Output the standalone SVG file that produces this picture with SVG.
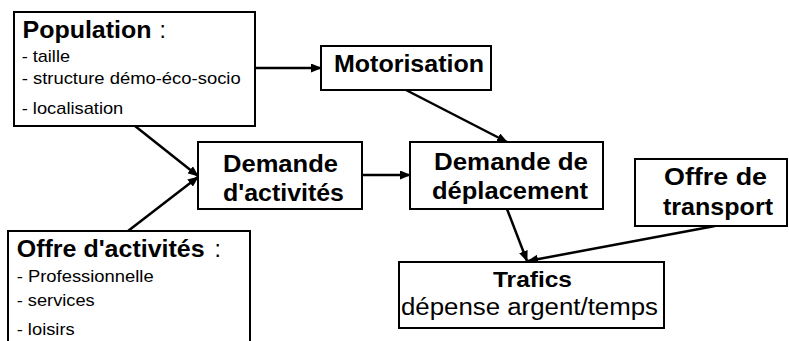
<svg xmlns="http://www.w3.org/2000/svg" width="789" height="341" viewBox="0 0 789 341">
<style>
  .box { fill: #ffffff; stroke: #000000; stroke-width: 2; }
  .t { font-family: "Liberation Sans", Arial, Helvetica, sans-serif; fill: #000000; }
  .b { font-weight: bold; }
  .title { font-size: 23px; }
  .big { font-size: 24px; }
  .item { font-size: 17px; }
  .mid { text-anchor: middle; }
  .conn line { stroke: #000000; stroke-width: 2.5; marker-end: url(#ah); }
</style>
<defs>
  <marker id="ah" markerUnits="userSpaceOnUse" markerWidth="11" markerHeight="9" refX="10" refY="4.5" orient="auto">
    <path d="M0,0 L11,4.5 L0,9 z" fill="#000000"/>
  </marker>
</defs>
<rect x="0" y="0" width="789" height="341" fill="#ffffff"/>

<g id="connectors" class="conn">
  <line x1="255" y1="68" x2="321" y2="68"/>
  <line x1="135" y1="126" x2="198" y2="176"/>
  <line x1="128" y1="231" x2="198" y2="177"/>
  <line x1="362" y1="175" x2="410" y2="175"/>
  <line x1="406" y1="90" x2="507" y2="142"/>
  <line x1="507" y1="209" x2="527" y2="261"/>
  <line x1="715" y1="226" x2="528" y2="261"/>
</g>

<g id="population">
  <rect class="box" x="14" y="12" width="241" height="114"/>
  <text class="t b title" x="22.5" y="38" textLength="129" lengthAdjust="spacingAndGlyphs">Population</text>
  <text class="t title" x="159.5" y="38">:</text>
  <text class="t item" x="21.7" y="61.5" textLength="48.3" lengthAdjust="spacingAndGlyphs">- taille</text>
  <text class="t item" x="21.7" y="84" textLength="219" lengthAdjust="spacingAndGlyphs">- structure démo-éco-socio</text>
  <text class="t item" x="21.7" y="114" textLength="101.6" lengthAdjust="spacingAndGlyphs">- localisation</text>
</g>

<g id="motorisation">
  <rect class="box" x="321" y="46" width="170" height="44"/>
  <text class="t b big" x="334" y="72" textLength="150" lengthAdjust="spacingAndGlyphs">Motorisation</text>
</g>

<g id="demande-activites">
  <rect class="box" x="198" y="142" width="164" height="67"/>
  <text class="t b big mid" x="280.5" y="172" textLength="115" lengthAdjust="spacingAndGlyphs">Demande</text>
  <text class="t b big mid" x="283.5" y="201" textLength="121" lengthAdjust="spacingAndGlyphs">d'activités</text>
</g>

<g id="demande-deplacement">
  <rect class="box" x="410" y="142" width="193" height="67"/>
  <text class="t b big mid" x="511" y="170" textLength="154" lengthAdjust="spacingAndGlyphs">Demande de</text>
  <text class="t b big mid" x="510" y="199" textLength="156" lengthAdjust="spacingAndGlyphs">déplacement</text>
</g>

<g id="offre-transport">
  <rect class="box" x="635" y="159" width="152" height="67"/>
  <text class="t b big mid" x="715.5" y="185" textLength="103" lengthAdjust="spacingAndGlyphs">Offre de</text>
  <text class="t b big mid" x="718" y="215" textLength="110" lengthAdjust="spacingAndGlyphs">transport</text>
</g>

<g id="trafics">
  <rect class="box" x="399" y="262" width="265" height="66"/>
  <text class="t b mid" style="font-size:22px" x="532.5" y="287" textLength="79" lengthAdjust="spacingAndGlyphs">Trafics</text>
  <text class="t mid" style="font-size:23px" x="529.5" y="315" textLength="257" lengthAdjust="spacingAndGlyphs">dépense argent/temps</text>
</g>

<g id="offre-activites">
  <rect class="box" x="8" y="231" width="242" height="120"/>
  <text class="t b title" x="16.7" y="257" textLength="188" lengthAdjust="spacingAndGlyphs">Offre d'activités</text>
  <text class="t title" x="214.5" y="257">:</text>
  <text class="t item" x="16.7" y="282" textLength="137" lengthAdjust="spacingAndGlyphs">- Professionnelle</text>
  <text class="t item" x="16.7" y="306" textLength="78" lengthAdjust="spacingAndGlyphs">- services</text>
  <text class="t item" x="16.7" y="335" textLength="58" lengthAdjust="spacingAndGlyphs">- loisirs</text>
</g>
</svg>
